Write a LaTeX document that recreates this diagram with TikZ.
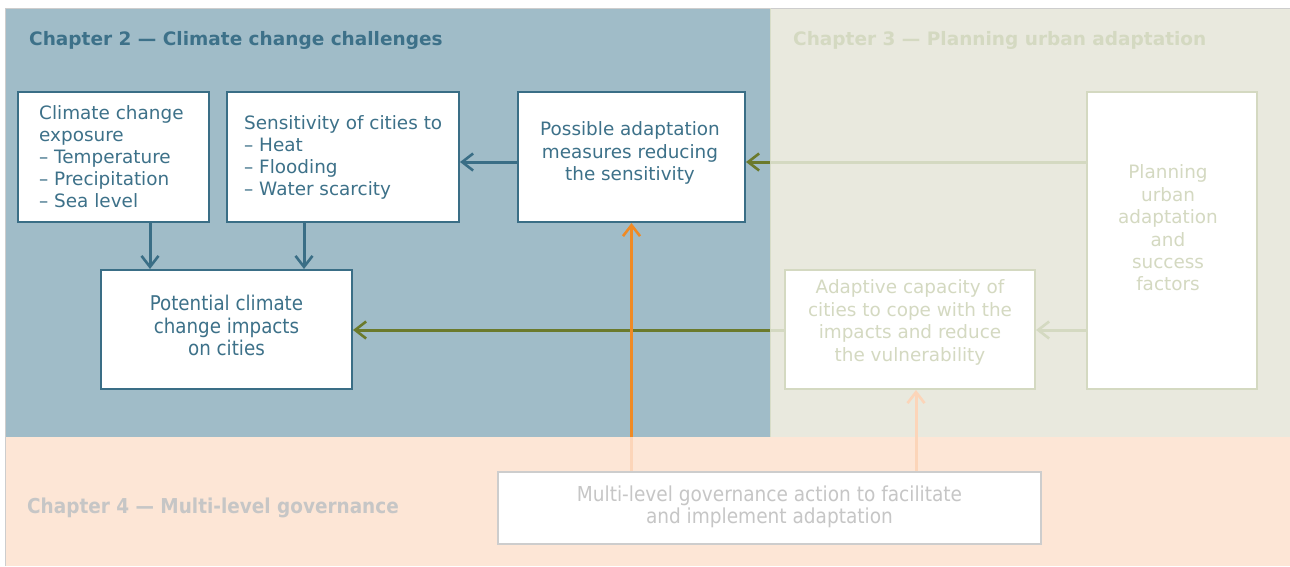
\documentclass[tikz,border=0pt]{standalone}
\usepackage{fontspec}
\setmainfont{DejaVu Sans}
\newfontfamily\condfont{DejaVu Sans Condensed}
\usetikzlibrary{arrows.meta}
\definecolor{bluebg}{HTML}{A0BCC8}
\definecolor{beigebg}{HTML}{E9E9DE}
\definecolor{peachbg}{HTML}{FDE6D6}
\definecolor{teal}{HTML}{3A6E86}
\definecolor{tealtxt}{HTML}{3D7189}
\definecolor{lightbeige}{HTML}{D4D9C1}
\definecolor{olive}{HTML}{6B7A2C}
\definecolor{orangeA}{HTML}{F08A24}
\definecolor{lightpeach}{HTML}{FCD5B9}
\definecolor{greytxt}{HTML}{C6C6C6}
\definecolor{greybd}{HTML}{CDCDCD}
\tikzset{
  bluebox/.style={draw=teal, line width=2pt, fill=white, inner sep=0pt},
  bluetxt/.style={text=tealtxt, inner sep=0pt, font=\fontsize{18.4}{22}\selectfont},
  beigebox/.style={draw=lightbeige, line width=2pt, fill=white, inner sep=0pt},
  beigetxt/.style={text=lightbeige, align=center, font=\fontsize{18.4}{22.4}\selectfont},
  arr/.style={line width=3pt, -{Straight Barb[length=11pt,width=17pt,line width=2.6pt]}},
  title/.style={anchor=west, inner sep=0pt, font=\bfseries\fontsize{18.5}{20}\selectfont},
}
\begin{document}
\begin{tikzpicture}[x=1pt,y=-1pt]
\useasboundingbox (0,0) rectangle (1290,566);
\fill[white] (0,0) rectangle (1290,566);
% regions
\fill[bluebg] (5,8) rectangle (770,437);
\fill[beigebg] (770,8) rectangle (1290,437);
\fill[peachbg] (5,437) rectangle (1290,566);
\draw[greybd, line width=1pt] (5,566) -- (5,8) -- (1290,8);
\draw[lightbeige!80!olive!60, line width=1.2pt] (770.5,8) -- (770.5,437);
% titles
\node[title, text=tealtxt] (t2) at (29,40) {Chapter 2 — Climate change challenges};
\node[title, text=lightbeige] (t3) at (793,40) {Chapter 3 — Planning urban adaptation};
\node[title, text=greytxt, font=\condfont\bfseries\fontsize{20.5}{22}\selectfont] (t4) at (27,508) {Chapter 4 — Multi-level governance};
% blue boxes
\node[bluebox, minimum width=191pt, minimum height=130pt] (exposure) at (113.5,157) {};
\node[bluetxt, anchor=west, align=left] (exposure-t) at (39,157)
  {Climate change\\exposure\\– Temperature\\– Precipitation\\– Sea level};
\node[bluebox, minimum width=232pt, minimum height=130pt] (sensitivity) at (343,157) {};
\node[bluetxt, anchor=west, align=left] (sensitivity-t) at (244,157)
  {Sensitivity of cities to\\– Heat\\– Flooding\\– Water scarcity};
\node[bluebox, minimum width=227pt, minimum height=130pt] (possible) at (631.5,157) {};
\node[bluetxt, align=center, font=\fontsize{18.4}{22.5}\selectfont] (possible-t) at (630,153)
  {Possible adaptation\\measures reducing\\the sensitivity};
\node[bluebox, minimum width=251pt, minimum height=119pt] (impacts) at (226.5,329.5) {};
\node[bluetxt, align=center, font=\condfont\fontsize{20.3}{22.5}\selectfont] (impacts-t) at (226.5,325.5)
  {Potential climate\\change impacts\\on cities};
% beige boxes
\node[beigebox, minimum width=170pt, minimum height=297pt] (planning) at (1172,240.5) {};
\node[beigetxt] (planning-t) at (1168,228) {Planning\\urban\\adaptation\\and\\success\\factors};
\node[beigebox, minimum width=250pt, minimum height=119pt] (adaptive) at (910,329.5) {};
\node[beigetxt] (adaptive-t) at (910,322.5) {Adaptive capacity of\\cities to cope with the\\impacts and reduce\\the vulnerability};
% governance box
\node[draw=greybd, line width=2pt, fill=white, minimum width=543pt, minimum height=72pt] (gov) at (769.5,508) {};
\node[text=greytxt, align=center, font=\condfont\fontsize{20.6}{22.5}\selectfont] (gov-t) at (769.5,507)
  {Multi-level governance action to facilitate\\and implement adaptation};
% connectors
\coordinate (b1) at (770,162);
\coordinate (b2) at (770,330);
\coordinate (b3) at (631.5,437);
\draw[arr, teal] (exposure.south -| 150,0) -- (impacts.north -| 150,0);
\draw[arr, teal] (sensitivity.south -| 304,0) -- (impacts.north -| 304,0);
\draw[arr, teal] (possible.west |- 0,162) -- (sensitivity.east |- 0,162);
\draw[line width=3pt, lightbeige] (planning.west |- 0,162) -- (b1);
\draw[arr, olive] (b1) -- (possible.east |- 0,162);
\draw[line width=3pt, lightbeige] (adaptive.west |- 0,330) -- (b2);
\draw[arr, olive] (b2) -- (impacts.east |- 0,330);
\draw[arr, lightbeige] (planning.west |- 0,330) -- (adaptive.east |- 0,330);
\draw[line width=3pt, lightpeach] (gov.north -| 631.5,0) -- (b3);
\draw[arr, orangeA] (b3) -- (possible.south);
\draw[arr, lightpeach] (gov.north -| 916,0) -- (adaptive.south -| 916,0);
\end{tikzpicture}
\end{document}
